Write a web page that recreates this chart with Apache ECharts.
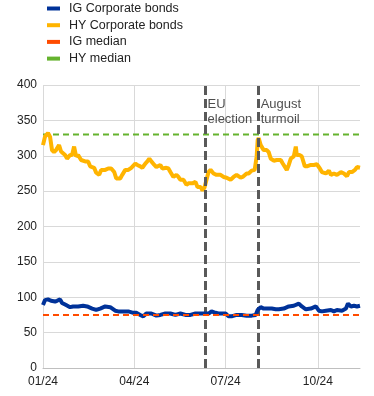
<!DOCTYPE html>
<html><head><meta charset="utf-8">
<script src="https://cdn.jsdelivr.net/npm/echarts@6/dist/echarts.min.js"></script>
<style>html,body{margin:0;padding:0;background:#fff}#c{width:374px;height:396px}</style>
</head><body><div id="c"></div>
<script>
// x values are days since 2024-01-01
var tickDays = [0, 91, 182, 274];
var tickLabels = ['01/24', '04/24', '07/24', '10/24'];
var xMaxDay = 316;

var hyDays = [0,2,5,7,9,11,13,16,18,22,24,27,29,31,33,35,38,42,45,47,51,53,56,58,62,65,68,71,73,77,79,82,85,88,92,94,97,99,102,104,106,108,111,113,117,119,123,125,127,130,133,135,137,140,143,145,147,149,152,154,157,159,161,163,165,167,170,173,177,180,183,187,190,193,197,199,203,205,208,211,213,214,215,217,220,223,225,227,230,233,237,239,243,245,247,250,252,253,256,258,261,263,267,270,273,276,278,282,285,287,290,293,297,300,303,305,308,311,313,316];
var hyValues = [315,327,332,327,308,305,308,315,306,301,296,301,301,313,299,301,294,292,292,285,283,276,273,280,280,282,282,277,268,268,273,280,280,283,289,287,285,283,289,292,296,292,287,284,287,282,283,282,277,270,273,270,266,266,259,261,261,261,263,256,256,251,255,266,277,280,275,273,273,270,269,266,270,273,269,270,275,275,279,280,299,322,325,315,308,308,305,296,293,294,294,289,280,287,296,299,313,301,301,299,285,285,287,287,288,282,277,275,279,273,275,273,277,275,271,277,277,280,284,283];

var igDays = [0,2,5,8,12,14,17,19,23,27,30,35,40,44,49,53,57,62,67,72,75,80,85,90,93,97,100,103,108,113,117,122,127,132,137,142,147,152,157,162,165,168,172,175,178,182,185,188,193,198,203,208,212,214,217,220,223,228,232,235,240,245,250,255,258,262,267,272,275,278,282,287,290,293,298,302,304,307,310,313,316];
var igValues = [89,96,97,95,94,95,97,92,89,86,87,87,88,87,84,82,84,87,86,81,80,80,80,78,78,75,73,77,77,74,75,77,77,75,77,75,75,77,77,77,77,80,78,77,77,77,73,73,75,75,74,74,75,82,86,84,84,84,83,83,84,87,88,91,87,83,84,87,81,80,81,82,80,82,81,84,91,87,88,87,88];

var igMedian = 75;
var hyMedian = 330;

var eventDays = [162, 215];
var eventNames = ['EU\nelection', 'August\nturmoil'];
var eventLabelY = 362;

var seriesNames = ['IG Corporate bonds', 'HY Corporate bonds', 'IG median', 'HY median'];
var colors = ['#003299', '#ffb400', '#ff4b00', '#65b32e'];

function pairs(xs, ys) { return xs.map(function (x, i) { return [x, ys[i]]; }); }

var chart = echarts.init(document.getElementById('c'), null, {renderer: 'canvas'});
var font = 'Liberation Sans, Arial, sans-serif';
chart.setOption({
  animation: false,
  textStyle: {fontFamily: font},
  legend: {
    data: seriesNames,
    orient: 'vertical', left: 42, top: -3,
    icon: 'rect', itemWidth: 13, itemHeight: 4, itemGap: 3.7,
    textStyle: {fontSize: 12.5, color: '#222', fontFamily: font, padding: [0, 0, 0, 4]}
  },
  grid: {left: 43, right: 14, top: 85, bottom: 28, containLabel: false},
  xAxis: {
    type: 'value', min: 0, max: xMaxDay,
    axisLine: {show: true, lineStyle: {color: '#bfbfbf'}},
    axisTick: {show: false, customValues: tickDays},
    axisLabel: {customValues: tickDays, color: '#222', fontSize: 12, margin: 8,
      formatter: function (v) { var i = tickDays.indexOf(v); return i >= 0 ? tickLabels[i] : ''; }},
    splitLine: {show: true, lineStyle: {color: '#d9d9d9', width: 1}}
  },
  yAxis: {
    type: 'value', min: 0, max: 400, interval: 50,
    axisLine: {show: false}, axisTick: {show: false},
    axisLabel: {color: '#222', fontSize: 12, margin: 6},
    splitLine: {lineStyle: {color: '#d9d9d9', width: 1}}
  },
  series: [
    {name: seriesNames[0], type: 'line', data: pairs(igDays, igValues), showSymbol: false, symbol: 'none',
     lineStyle: {color: colors[0], width: 4}, itemStyle: {color: colors[0]}, z: 5},
    {name: seriesNames[1], type: 'line', data: pairs(hyDays, hyValues), showSymbol: false, symbol: 'none',
     lineStyle: {color: colors[1], width: 4}, itemStyle: {color: colors[1]}, z: 4},
    {name: seriesNames[2], type: 'line', data: [[0, igMedian], [xMaxDay, igMedian]], symbol: 'none',
     lineStyle: {color: colors[2], width: 2, type: [6, 4]}, itemStyle: {color: colors[2]}, z: 6},
    {name: seriesNames[3], type: 'line', data: [[0, hyMedian], [xMaxDay, hyMedian]], symbol: 'none',
     lineStyle: {color: colors[3], width: 2, type: [6, 4]}, itemStyle: {color: colors[3]}, z: 3,
     markLine: {silent: true, symbol: 'none', label: {show: false},
       lineStyle: {color: '#595959', width: 3, type: [9, 4]},
       data: eventDays.map(function (d) { return {xAxis: d}; })}},
    {name: 'events', type: 'scatter', symbolSize: 0, z: 10,
     data: eventDays.map(function (d, i) { return {value: [d, eventLabelY], name: eventNames[i]}; }),
     label: {show: true, position: 'right', distance: 2, formatter: function (p) { return p.name; },
       color: '#222', fontSize: 13, lineHeight: 15, align: 'left'}}
  ]
});
</script>
</body></html>
